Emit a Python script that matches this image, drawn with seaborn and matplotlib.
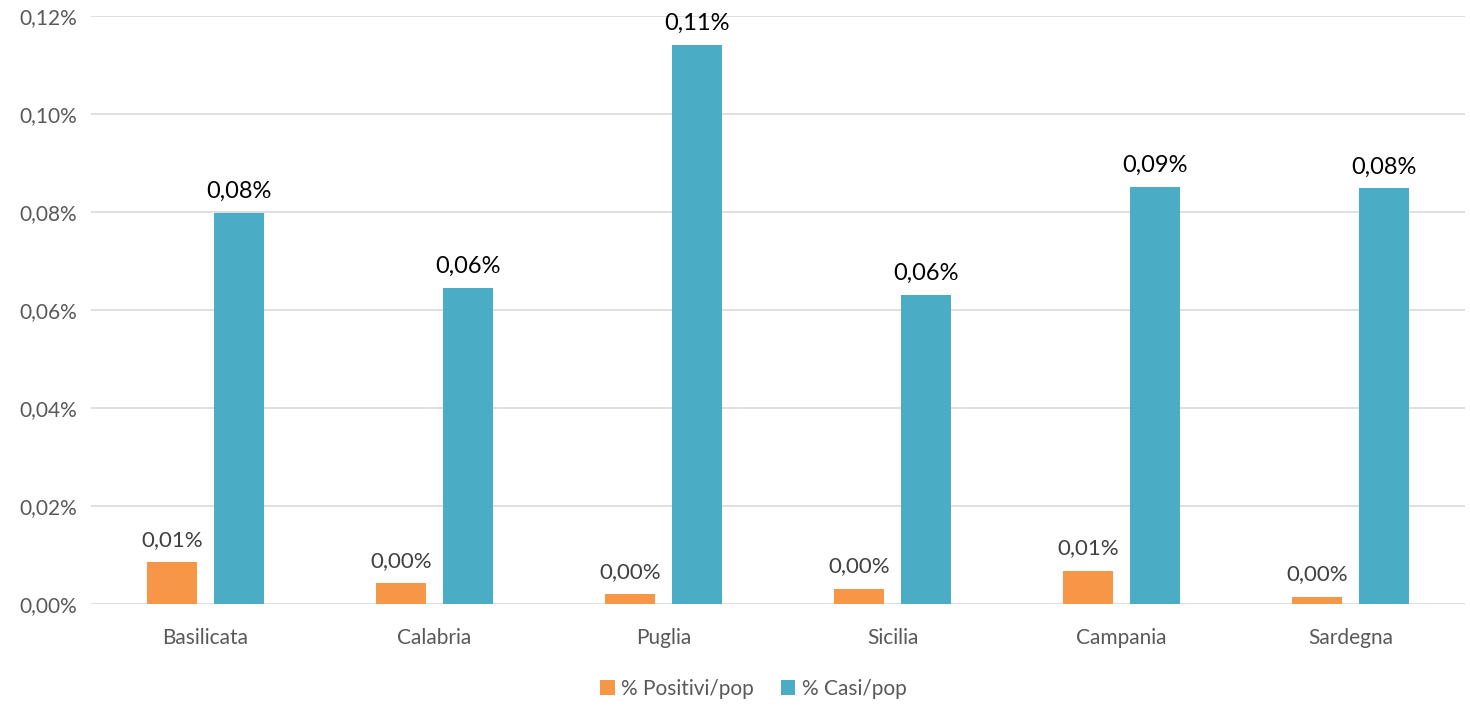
import pandas as pd
import matplotlib.pyplot as plt
import seaborn as sns
from matplotlib.ticker import FuncFormatter

regioni = ["Basilicata", "Calabria", "Puglia", "Sicilia", "Campania", "Sardegna"]
positivi_pop = [0.0085, 0.0042, 0.0020, 0.0031, 0.0068, 0.0015]
casi_pop = [0.0798, 0.0645, 0.1141, 0.0631, 0.0852, 0.0848]
serie = ["% Positivi/pop", "% Casi/pop"]
yticks = [0, 0.02, 0.04, 0.06, 0.08, 0.10, 0.12]

df = pd.DataFrame({
    "Regione": regioni * 2,
    "Serie": [serie[0]] * len(regioni) + [serie[1]] * len(regioni),
    "Valore": positivi_pop + casi_pop,
})

sns.set_style("white")
plt.rcParams['font.family'] = ['Lato', 'DejaVu Sans']

fig = plt.figure(figsize=(14.7, 7.07), dpi=100)
ax = fig.add_axes([0.0619, 0.1457, 0.9347, 0.8317])

palette = {serie[0]: "#F79646", serie[1]: "#4BACC6"}
sns.barplot(data=df, x="Regione", y="Valore", hue="Serie", palette=palette,
            width=0.585, gap=0.24, ax=ax, legend=True, saturation=1, linewidth=0)

ax.set_ylim(0, 0.12)
ax.set_xlim(-0.5, len(regioni) - 0.5)
ax.set_yticks(yticks)
ax.yaxis.set_major_formatter(FuncFormatter(lambda v, p: f"{v:.2f}%".replace(".", ",")))
ax.grid(axis="y", color="#D9D9D9", linewidth=1.2)
ax.set_axisbelow(True)
for s in ax.spines.values():
    s.set_visible(False)
ax.tick_params(axis="both", length=0, labelsize=15, labelcolor="#595959")
ax.tick_params(axis="x", pad=17)
ax.tick_params(axis="y", pad=10)
ax.set_xlabel("")
ax.set_ylabel("")

label_colors = ["#404040", "#000000"]
label_sizes = [16, 17]
label_offsets = [9, 8]
for cont, col, fs, off in zip(ax.containers, label_colors, label_sizes, label_offsets):
    for bar in cont:
        h = bar.get_height()
        ax.annotate(f"{h:.2f}%".replace(".", ","),
                    (bar.get_x() + bar.get_width() / 2, h),
                    xytext=(0, off), textcoords="offset points",
                    ha="center", va="bottom", fontsize=fs, color=col)

ax.legend(loc="upper center", bbox_to_anchor=(0.482, -0.095), ncol=2, frameon=False,
          fontsize=15, labelcolor="#595959", handlelength=0.7, handleheight=0.7,
          handletextpad=0.3, columnspacing=1.3)

fig.savefig("out.png", dpi=100)
